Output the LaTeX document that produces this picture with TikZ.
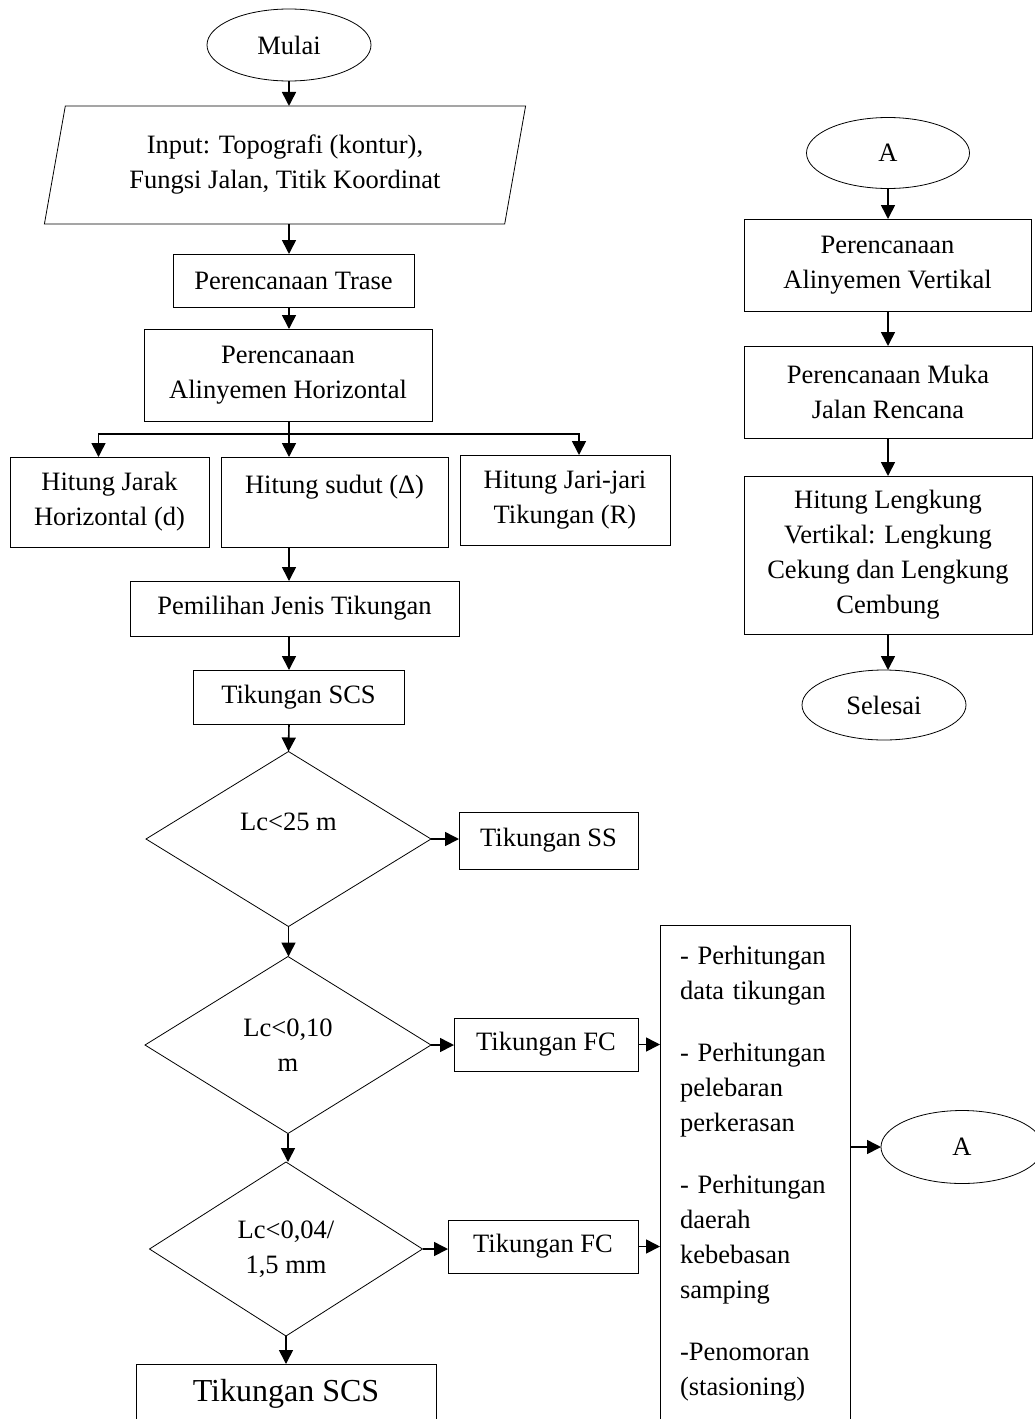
\documentclass[tikz,border=0pt]{standalone}
\usepackage{fontspec}
\setmainfont{Liberation Serif}
\usetikzlibrary{shapes.geometric,arrows.meta}

\tikzset{
  box/.style={draw, line width=0.8pt, inner sep=0pt, outer sep=0pt, align=center},
  term/.style={box, ellipse},
  io/.style={box, trapezium, trapezium left angle=76, trapezium right angle=104, trapezium stretches=true},
  cond/.style={box, diamond},
  arr/.style={line width=1.6pt, -{Triangle[length=14pt,width=14pt]}},
}

\begin{document}
\begin{tikzpicture}[x=1pt, y=-1pt, font=\fontsize{26.5}{35}\selectfont]
			\useasboundingbox (0,0) rectangle (1035,1419);

			% left column
			\node[term, minimum width=164, minimum height=72] (mulai) at (289,45) {Mulai};
			\node[io, minimum width=482, minimum height=118] (input) at (285,165) {Input: Topografi (kontur),\\Fungsi Jalan, Titik Koordinat};
			\node[box, minimum width=241, minimum height=53] (trase) at (293.5,280.5) {Perencanaan Trase};
			\node[box, minimum width=288, minimum height=92] (horiz) at (288,375) {Perencanaan\\Alinyemen Horizontal};
			\coordinate (br) at (289,434);

			\node[box, minimum width=199, minimum height=90] (jarak) at (109.5,502) {Hitung Jarak\\Horizontal (d)};
			\node[box, minimum width=227, minimum height=90] (sudut) at (334.5,502) {Hitung sudut (Δ)\\\mbox{}};
			\node[box, minimum width=210, minimum height=90] (jari) at (565,500) {Hitung Jari-jari\\Tikungan (R)};

			\node[box, minimum width=329, minimum height=55] (pilih) at (294.5,608.5) {Pemilihan Jenis Tikungan};
			\node[box, minimum width=211, minimum height=54] (scs) at (298.5,697) {Tikungan SCS};

			\node[cond, minimum width=285, minimum height=175] (lc1) at (288.5,839) {Lc<25 m\\\mbox{}};
			\node[box, minimum width=179, minimum height=57] (ss) at (548.5,840.5) {Tikungan SS};
			\node[cond, minimum width=286, minimum height=177] (lc2) at (288,1045) {Lc<0,10\\m};
			\node[box, minimum width=184, minimum height=53] (fc1) at (546,1044.5) {Tikungan FC};
			\node[cond, minimum width=273, minimum height=174] (lc3) at (286,1249) {Lc<0,04/\\1,5 mm};
			\node[box, minimum width=190, minimum height=53] (fc2) at (543,1246.5) {Tikungan FC};
			\node[box, minimum width=300, minimum height=60, font=\fontsize{32}{38}\selectfont] (scsb) at (286,1394) {Tikungan SCS};

			\node[box, minimum width=190, minimum height=497, text width=150, align=left] (hitung) at (755,1173.5) {- Perhitungan\\data tikungan\\[27pt]- Perhitungan\\pelebaran\\perkerasan\\[27pt]- Perhitungan\\daerah\\kebebasan\\samping\\[27pt]-Penomoran\\(stasioning)};
			\node[term, minimum width=162, minimum height=73] (a2) at (962,1147) {A};

			% right column
			\node[term, minimum width=163, minimum height=71] (a1) at (888,153) {A};
			\node[box, minimum width=287, minimum height=92] (vert) at (887.5,265) {Perencanaan\\Alinyemen Vertikal};
			\node[box, minimum width=288, minimum height=92] (muka) at (888,392) {Perencanaan Muka\\Jalan Rencana};
			\node[box, minimum width=288, minimum height=158] (lengkung) at (888,555) {Hitung Lengkung\\Vertikal: Lengkung\\Cekung dan Lengkung\\Cembung};
			\node[term, minimum width=164, minimum height=70] (selesai) at (884,705) {Selesai};

			\draw[arr] (mulai.south) -- (mulai.south |- input.north);
			\draw[arr] (br |- input.south) -- (br |- trase.north);
			\draw[arr] (br |- trase.south) -- (br |- horiz.north);
			\draw[line width=1.6pt] (br |- horiz.south) -- (br);
			\draw[arr] (br) -| ([xshift=-11pt]jarak.north);
			\draw[arr] (br) -- (br |- sudut.north);
			\draw[arr] (br) -| ([xshift=14pt]jari.north);
			\draw[arr] (br |- sudut.south) -- (br |- pilih.north);
			\draw[arr] (br |- pilih.south) -- (br |- scs.north);
			\draw[arr] (br |- scs.south) -- (lc1.north);
			\draw[arr] (lc1.south) -- (lc1.south |- lc2.north);
			\draw[arr] (lc2.south) -- (lc2.south |- lc3.north);
			\draw[arr] (lc3.south) -- (lc3.south |- scsb.north);

			\draw[arr] (lc1.east) -- (lc1.east -| ss.west);
			\draw[arr] (lc2.east) -- (lc2.east -| fc1.west);
			\draw[arr] (lc3.east) -- (lc3.east -| fc2.west);
			\draw[arr] (fc1.east) -- (fc1.east -| hitung.west);
			\draw[arr] (fc2.east) -- (fc2.east -| hitung.west);
			\draw[arr] (hitung.east |- a2.west) -- (a2.west);

			\draw[arr] (a1.south) -- (a1.south |- vert.north);
			\draw[arr] (a1.south |- vert.south) -- (a1.south |- muka.north);
			\draw[arr] (a1.south |- muka.south) -- (a1.south |- lengkung.north);
			\draw[arr] (a1.south |- lengkung.south) -- (a1.south |- selesai.north);
		\end{tikzpicture}
\end{document}
